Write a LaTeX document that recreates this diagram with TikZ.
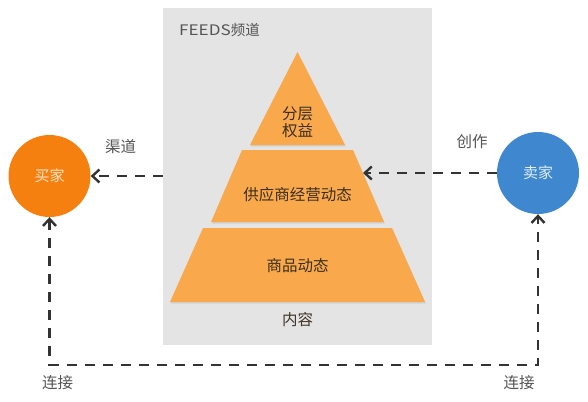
\documentclass[tikz,border=0pt]{standalone}
\usepackage{fontspec}
\setmainfont{Noto Sans CJK SC}
\usetikzlibrary{arrows.meta,shadows}
\definecolor{boxgray}{HTML}{E4E4E4}
\definecolor{pyr}{HTML}{F9A94B}
\definecolor{buyerc}{HTML}{F5800F}
\definecolor{sellerc}{HTML}{3F88CF}
\definecolor{lbl}{HTML}{555555}
\definecolor{pyrtxt}{HTML}{3B2E1E}
\definecolor{conncol}{HTML}{333333}
\definecolor{buyertxt}{HTML}{FFE4C8}
\definecolor{sellertxt}{HTML}{E2EEFA}
\begin{document}
\begin{tikzpicture}[x=1pt,y=-1pt,
  conn/.style={draw=conncol, line width=2.4pt, dash pattern=on 10pt off 8pt,
    -{Straight Barb[length=7pt,width=13pt]}},
  bothconn/.style={draw=conncol, line width=2.4pt, dash pattern=on 10pt off 8pt,
    {Straight Barb[length=7pt,width=13pt]}-{Straight Barb[length=7pt,width=13pt]}},
  party/.style={circle, minimum size=82pt, inner sep=0pt, font=\fontsize{15}{17}\selectfont},
  layer/.style={fill=pyr, drop shadow={opacity=0.18, shadow xshift=0.8pt, shadow yshift=-1.5pt}},
  layertext/.style={text=pyrtxt, font=\fontsize{15.5}{18}\selectfont, align=center, inner sep=0pt},
  lbltext/.style={text=lbl, font=\fontsize{15.5}{18}\selectfont, inner sep=0pt},
]
\useasboundingbox (0,0) rectangle (588,401);
\fill[white] (0,0) rectangle (588,401);

% FEEDS channel box
\node[fill=boxgray, minimum width=269pt, minimum height=335pt, inner sep=0pt,
  drop shadow={opacity=0.22, shadow xshift=0pt, shadow yshift=-2pt}] (feeds) at (297.5,175.5) {};
\node[anchor=west, text=lbl, font=\fontsize{14.5}{17}\selectfont, inner sep=0pt] (title) at (179,30) {\scalebox{1.18}[1]{FEEDS}频道};

% pyramid layers
\path[layer] (297.5,52) -- (345,145) -- (250,145) -- cycle;
\path[layer] (242,150) -- (353,150) -- (384,222) -- (211,222) -- cycle;
\path[layer] (203,228) -- (392,228) -- (425,302) -- (170,302) -- cycle;
\coordinate (supR) at (363,173);

\node[layertext] (tier) at (297.5,122) {分层\\[-1pt]权益};
\node[layertext] (supply) at (297.5,195) {供应商经营动态};
\node[layertext] (goods) at (297.5,266) {商品动态};
\node[lbltext, text=pyrtxt!80!lbl] (content) at (297.5,320) {内容};

% parties
\node[party, fill=buyerc, text=buyertxt] (buyer) at (49.5,176) {买家};
\node[party, fill=sellerc, text=sellertxt] (seller) at (538,173) {卖家};

% connectors
\coordinate (bl) at (48,365);
\draw[conn] (feeds.west |- buyer.east) -- (buyer.east);
\draw[conn] (seller.west) -- (supR);
\draw[bothconn] (buyer.south) -- (buyer.south |- bl) -| (seller.south);

% labels
\node[lbltext] (lchan) at (120.5,147) {渠道};
\node[lbltext] (lcreate) at (472,142) {创作};
\node[lbltext] (lconl) at (57.5,383) {连接};
\node[lbltext] (lconr) at (519,383) {连接};
\end{tikzpicture}
\end{document}
